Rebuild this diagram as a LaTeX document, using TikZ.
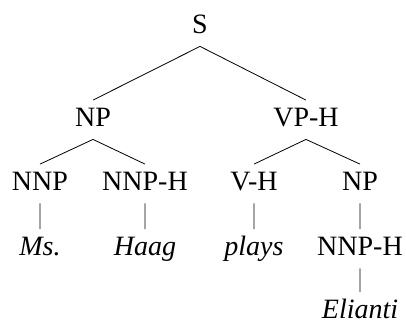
\documentclass[tikz,border=0pt]{standalone}
\usepackage{fontspec}
\setmainfont{Liberation Serif}
\usetikzlibrary{positioning}

\tikzset{
    cat/.style={text height=22pt, text depth=9.5pt, inner sep=3.5pt},
    word/.style={cat, font=\fontsize{28}{32}\selectfont\itshape},
}

\begin{document}
\begin{tikzpicture}[x=1pt, y=1pt, on grid, line width=0.8pt,
    font=\fontsize{28}{32}\selectfont]
    \useasboundingbox (0,0) rectangle (406,-322);
    \node [cat, anchor=base] (s) at (200,-33) {S};
    \node [cat, below  left=93pt and 107pt of s] (np) {NP};
    \node [cat, below right=93pt and 106pt of s] (vp) {VP-H};
    \node [cat, below  left=64pt and 53pt of np] (nnp) {NNP};
    \node [cat, below right=64pt and 52pt of np] (nnph) {NNP-H};
    \node [cat, below  left=64pt and 52pt of vp] (vh) {V-H};
    \node [cat, below right=64pt and 54pt of vp] (obj) {NP};
    \node [word, below=65pt of nnp]  (ms)    {Ms.};
    \node [word, below=65pt of nnph] (haag)  {Haag};
    \node [word, below=65pt of vh]   (plays) {plays};
    \node [cat,  below=65pt of obj]  (objh)  {NNP-H};
    % last word sits on the bottom edge: keep its box inside
    \node [word, text height=24.5pt, text depth=2pt, inner sep=1pt,
           below=58pt of objh] (elianti) {Elianti};
    \draw (s.south) -- (np.north)  (s.south) -- (vp.north)
          (np.south) -- (nnp.north)  (np.south) -- (nnph.north)
          (vp.south) -- (vh.north)   (vp.south) -- (obj.north)
          (nnp.south) -- (ms.north)  (nnph.south) -- (haag.north)
          (vh.south) -- (plays.north)  (obj.south) -- (objh.north)
          (objh.south) -- (elianti.north);
\end{tikzpicture}
\end{document}
